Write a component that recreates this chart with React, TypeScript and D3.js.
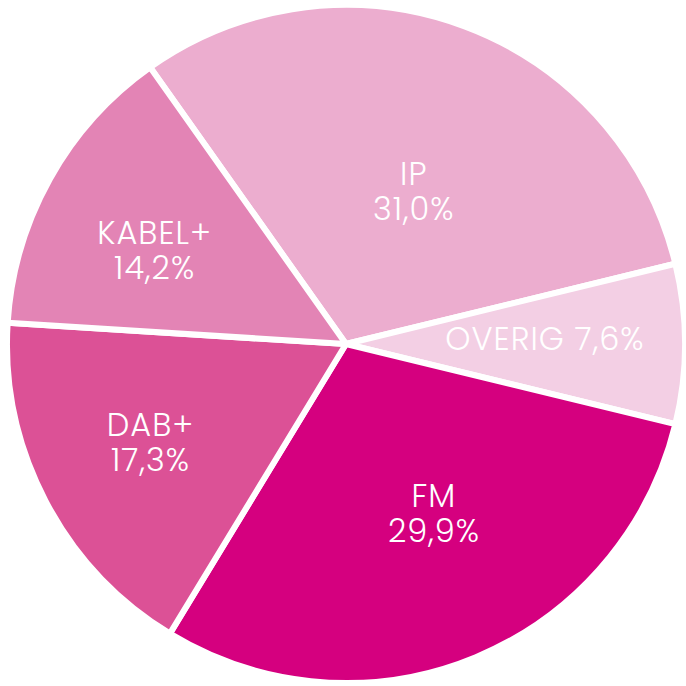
import React from "react";
import * as d3 from "d3";

const categories = ["IP", "OVERIG", "FM", "DAB+", "KABEL+"];
const values = [31.0, 7.6, 29.9, 17.3, 14.2];
const valueLabels = ["31,0%", "7,6%", "29,9%", "17,3%", "14,2%"];
const colors = ["#ECADCF", "#F3CFE4", "#D5007F", "#DC5196", "#E384B5"];
const singleLine = [false, true, false, false, false];
// label placement (layout): radius from centre and angular nudge in degrees
const labelRadius = [166, 199, 191, 219, 213];
const labelNudge = [3.6, -1.7, -4.9, 0.8, -3.1];

export default function App() {
  const W = 686;
  const H = 686;
  const cx = 346;
  const cy = 344;
  const R = 339;
  const startAngle = (-35.3 * Math.PI) / 180;

  const data = categories.map((c, i) => ({ c, v: values[i], i }));
  const pie = d3
    .pie<any>()
    .value((d) => d.v)
    .sort(null)
    .startAngle(startAngle)
    .endAngle(startAngle + 2 * Math.PI);
  const arcs = pie(data);
  const arc = d3.arc<any>().innerRadius(0).outerRadius(R);

  const fs = 32;
  const style = {
    fontFamily: "Poppins, Lato, 'Open Sans', sans-serif",
    fontWeight: 300,
    fontSize: fs,
    letterSpacing: 1,
    fill: "#ffffff",
  } as any;
  return (
    <svg
      width={W}
      height={H}
      style={{ position: "absolute", left: 0, top: 0, display: "block" }}
    >
      <rect width={W} height={H} fill="#ffffff" />
      <g transform={`translate(${cx},${cy})`}>
        {arcs.map((a, i) => (
          <path
            key={i}
            d={arc(a) as string}
            fill={colors[i]}
            stroke="#ffffff"
            strokeWidth={6}
            strokeLinejoin="round"
          />
        ))}
        {arcs.map((a, i) => {
          const ang = (a.startAngle + a.endAngle) / 2 + (labelNudge[i] * Math.PI) / 180;
          const r = labelRadius[i];
          const x = r * Math.sin(ang);
          const y = -r * Math.cos(ang);
          if (singleLine[i]) {
            return (
              <text key={i} x={x} y={y + 12} textAnchor="middle" style={style}>
                {categories[i] + " " + valueLabels[i]}
              </text>
            );
          }
          return (
            <g key={i}>
              <text x={x} y={y - 7} textAnchor="middle" style={style}>
                {categories[i]}
              </text>
              <text x={x} y={y + 28} textAnchor="middle" style={style}>
                {valueLabels[i]}
              </text>
            </g>
          );
        })}
      </g>
    </svg>
  );
}
